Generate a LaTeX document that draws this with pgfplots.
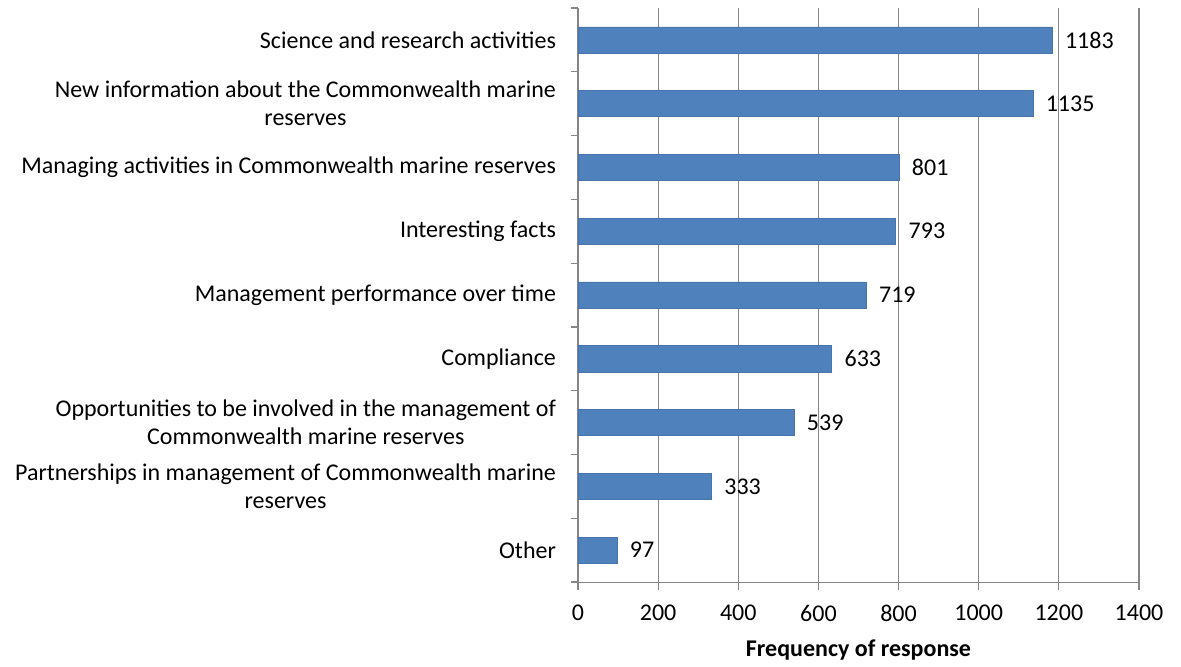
\documentclass[border=0pt]{standalone}
\usepackage{fontspec}
\setmainfont{Carlito}
\usepackage{pgfplots}
\pgfplotsset{compat=1.18}
\definecolor{barblue}{HTML}{4F81BD}
\definecolor{gridgray}{HTML}{868686}
\begin{document}
\begin{tikzpicture}
\useasboundingbox (-289pt,-42pt) rectangle (301.5pt,291pt);
\begin{axis}[
    scale only axis,
    width=280.5pt,
    height=287pt,
    xbar,
    bar width=0.41,
    xmin=0, xmax=1400,
    ymin=-0.5, ymax=8.5,
    xtick={0,200,...,1400},
    ytick={0,...,8},
    yticklabels={
        {Other},
        {Partnerships in management of Commonwealth marine\\reserves},
        {Opportunities to be involved in the management of\\Commonwealth marine reserves},
        {Compliance},
        {Management performance over time},
        {Interesting facts},
        {Managing activities in Commonwealth marine reserves},
        {New information about the Commonwealth marine\\reserves},
        {Science and research activities}
    },
    minor ytick={-0.5,0.5,...,8.5},
    axis lines*=left,
    axis line style={gridgray},
    xmajorgrids,
    major grid style={gridgray, line width=0.6pt},
    tick align=outside,
    major tick length=4pt,
    minor tick length=3.5pt,
    tick style={gridgray, line width=0.6pt},
    major y tick style={draw=none},
    yticklabel style={align=center, font=\fontsize{12}{14}\selectfont, xshift=-3.5pt},
    xticklabel style={font=\fontsize{12}{14}\selectfont, yshift=-4pt},
    /pgf/number format/assume math mode=true,
    /pgf/number format/1000 sep={},
    xlabel={\textbf{Frequency of response}},
    xlabel style={at={(axis description cs:0.5,0)}, anchor=center, yshift=-34pt, font=\fontsize{12}{14}\selectfont},
    nodes near coords,
    nodes near coords style={font=\fontsize{12}{14}\selectfont, black, xshift=3pt},
    every node near coord/.append style={anchor=west},
]
\addplot[fill=barblue, draw=barblue!90!black, line width=0.3pt]
coordinates {
    (97,0)
    (333,1)
    (539,2)
    (633,3)
    (719,4)
    (793,5)
    (801,6)
    (1135,7)
    (1183,8)
};
\end{axis}
\end{tikzpicture}
\end{document}
